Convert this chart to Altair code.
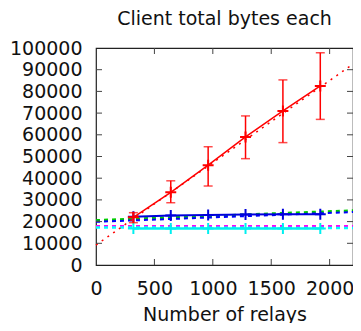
import altair as alt
import pandas as pd

# ---- data ----
relays = [320, 640, 960, 1280, 1600, 1920]
red_mean = [22000, 33500, 46000, 59000, 71000, 82500]
red_lo = [19500, 28700, 36400, 49000, 56400, 67100]
red_hi = [24100, 38800, 54500, 68700, 85300, 97800]
blue_mean = [22200, 22800, 23000, 23300, 23400, 23400]
cyan_mean = [16800, 16800, 16800, 16800, 16800, 16800]

fit_x = [0, 2200]
red_fit = [9200, 92600]
green_fit = [20600, 25100]
blue_fit = [19900, 24400]
magenta_fit = [17900, 17900]
cyan_fit = [17300, 17000]

x_labels = [0, 500, 1000, 1500, 2000]
y_labels = [0, 10000, 20000, 30000, 40000, 50000, 60000, 70000, 80000, 90000, 100000]
x_ticks = [500, 1000, 1500, 2000]
y_ticks = [10000, 20000, 30000, 40000, 50000, 60000, 70000, 80000, 90000]

W, H = 257, 217
FONT = "DejaVu Sans"

xs = alt.Scale(domain=[0, 2200], nice=False)
ys = alt.Scale(domain=[0, 100000], nice=False)

pts = pd.DataFrame({"x": relays, "red": red_mean, "lo": red_lo, "hi": red_hi,
                    "blue": blue_mean, "cyan": cyan_mean})
fits = pd.DataFrame({"x": fit_x, "red": red_fit, "green": green_fit, "blue": blue_fit,
                     "magenta": magenta_fit, "cyan": cyan_fit})
xt = pd.DataFrame({"x": x_ticks})
yt = pd.DataFrame({"y": y_ticks})

AX_X = alt.Axis(values=x_labels, grid=False, domain=False, ticks=False, labelPadding=14,
                titlePadding=7, labelFlush=False, labelOverlap=False, format="d")
AX_Y = alt.Axis(values=y_labels, grid=False, domain=False, ticks=False, labelPadding=14,
                format="d", labelOverlap=False, labelFlush=False)
XT = "Number of relays"

PLUS = "M-1,0L1,0M0,-1L0,1"

def xq(field="x"):
    return alt.X(f"{field}:Q", scale=xs, axis=AX_X, title=XT)

def yq(field):
    return alt.Y(f"{field}:Q", scale=ys, axis=AX_Y, title=None)

def fitline(col, color, dash, width):
    return alt.Chart(fits).mark_line(color=color, strokeDash=dash, strokeWidth=width).encode(
        x=xq(), y=yq(col))

def dataline(col, color, width):
    line = alt.Chart(pts).mark_line(color=color, strokeWidth=width).encode(x=xq(), y=yq(col))
    p = alt.Chart(pts).mark_point(shape=PLUS, color=color, strokeWidth=2, size=120, filled=False,
                                  opacity=1).encode(x=xq(), y=yq(col))
    return line + p

layers = [
    fitline("green", "#00cc00", [4, 4], 2.5),
    fitline("blue", "#0000ff", [4, 4], 2),
    fitline("magenta", "#ff00ff", [4, 4], 2.5),
    fitline("cyan", "#00ffff", [4, 4], 2.5),
    dataline("cyan", "#00f0f0", 2.5),
    dataline("blue", "#0000dd", 2),
    fitline("red", "#ff0000", [2, 5], 1.5),
    alt.Chart(pts).mark_rule(color="#ff0000", strokeWidth=1.5).encode(
        x=xq(), y=yq("lo"), y2="hi:Q"),
    alt.Chart(pts).mark_tick(color="#ff0000", orient="horizontal", size=9, thickness=1.5).encode(
        x=xq(), y=yq("lo")),
    alt.Chart(pts).mark_tick(color="#ff0000", orient="horizontal", size=9, thickness=1.5).encode(
        x=xq(), y=yq("hi")),
    dataline("red", "#ff0000", 1.5),
    # inward ticks on all four sides
    alt.Chart(xt).mark_rule(color="#444", strokeWidth=1).encode(
        x=xq(), y=alt.value(H), y2=alt.value(H - 6)),
    alt.Chart(xt).mark_rule(color="#444", strokeWidth=1).encode(
        x=xq(), y=alt.value(0), y2=alt.value(6)),
    alt.Chart(yt).mark_rule(color="#444", strokeWidth=1).encode(
        y=yq("y"), x=alt.value(0), x2=alt.value(6)),
    alt.Chart(yt).mark_rule(color="#444", strokeWidth=1).encode(
        y=yq("y"), x=alt.value(W - 6), x2=alt.value(W)),
]

chart = alt.layer(*layers).properties(
    width=W, height=H,
    title=alt.TitleParams("Client total bytes each", font=FONT, fontSize=19,
                          fontWeight="normal", color="#111", anchor="middle", offset=10),
    autosize=alt.AutoSizeParams(type="none"),
    padding={"left": 88, "top": 40, "right": 0, "bottom": 58},
).configure_view(stroke="#222", strokeWidth=1.2).configure_axis(
    labelFont=FONT, labelFontSize=19, labelColor="#111",
    titleFont=FONT, titleFontSize=19, titleFontWeight="normal", titleColor="#111",
)

chart.save("out.html", embed_options={"renderer": "svg", "actions": False})
